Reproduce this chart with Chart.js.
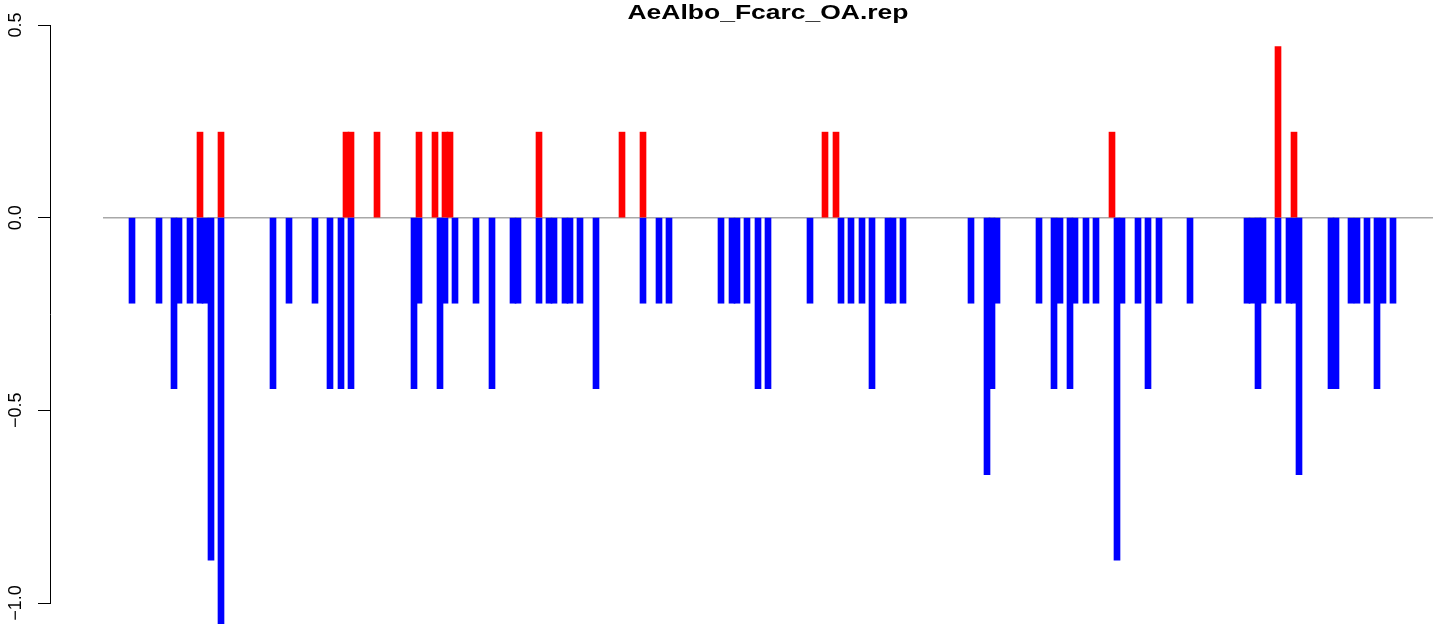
<!DOCTYPE html>
<html lang="en">
<head>
    <meta charset="UTF-8">
    <title>AeAlbo_Fcarc_OA.rep</title>
    <script src="https://cdn.jsdelivr.net/npm/chart.js"></script>
    <style>
        body { margin: 0; background: #ffffff; }
    </style>
</head>
<body>
    <canvas id="grafico" width="1444" height="624"></canvas>

    <script>
        // Positions along the (unlabelled) x axis and the values of each bar
        const titulo = 'AeAlbo_Fcarc_OA.rep';

        const posNeg = [82, 109, 124, 129, 140, 150, 155, 161, 171, 223, 239, 265, 280, 291, 301, 364, 369, 390, 395, 405,
            426, 442, 463, 468, 489, 499, 504, 515, 520, 530, 546, 593, 609, 619, 671, 682, 687, 697, 708, 718,
            760, 791, 801, 812, 822, 838, 843, 853, 921, 937, 942, 947, 989, 1004, 1010, 1020, 1025, 1036, 1046, 1067,
            1072, 1088, 1098, 1109, 1140, 1197, 1202, 1208, 1213, 1228, 1239, 1244, 1249, 1281, 1286, 1301, 1307, 1317, 1327, 1333,
            1343];
        const valNeg = [-0.222, -0.222, -0.444, -0.222, -0.222, -0.222, -0.222, -0.889, -1.111, -0.444, -0.222, -0.222, -0.444, -0.444, -0.444, -0.444, -0.222, -0.444, -0.222, -0.222,
            -0.222, -0.444, -0.222, -0.222, -0.222, -0.222, -0.222, -0.222, -0.222, -0.222, -0.444, -0.222, -0.222, -0.222, -0.222, -0.222, -0.222, -0.222, -0.444, -0.444,
            -0.222, -0.222, -0.222, -0.222, -0.444, -0.222, -0.222, -0.222, -0.222, -0.667, -0.444, -0.222, -0.222, -0.444, -0.222, -0.444, -0.222, -0.222, -0.222, -0.889,
            -0.222, -0.222, -0.444, -0.222, -0.222, -0.222, -0.222, -0.444, -0.222, -0.222, -0.222, -0.222, -0.667, -0.444, -0.444, -0.222, -0.222, -0.222, -0.444, -0.222,
            -0.222];

        const posPos = [150, 171, 296, 301, 327, 369, 385, 395, 400, 489, 572, 593, 775, 786, 1062, 1228, 1244];
        const valPos = [0.222, 0.222, 0.222, 0.222, 0.222, 0.222, 0.222, 0.222, 0.222, 0.222, 0.222, 0.222, 0.222, 0.222, 0.222, 0.444, 0.222];

        // reference line at 0
        const lineaX = [53, 1383];
        const yTicks = [0.5, 0, -0.5, -1.0];
        const yTickLabels = ['0.5', '0.0', '\u22120.5', '\u22121.0'];

        const toPoints = (xs, ys) => xs.map((x, i) => ({ x: x, y: ys[i] }));

        // Rotated y labels and the title, R style
        const rotuloPlugin = {
            id: 'rotulos',
            afterDraw(chart) {
                const ctx = chart.ctx;
                const y = chart.scales.y;
                ctx.save();
                ctx.fillStyle = '#000000';
                ctx.font = '18px "Liberation Sans", Arial, sans-serif';
                ctx.textAlign = 'center';
                ctx.textBaseline = 'alphabetic';
                yTicks.forEach((v, i) => {
                    ctx.save();
                    ctx.translate(21, y.getPixelForValue(v));
                    ctx.rotate(-Math.PI / 2);
                    ctx.fillText(yTickLabels[i], 0, 0);
                    ctx.restore();
                });
                ctx.font = 'bold 21px "Liberation Sans", Arial, sans-serif';
                const ancho = ctx.measureText(titulo).width;
                ctx.translate(768, 19);
                ctx.scale(281 / ancho, 1);
                ctx.fillText(titulo, 0, 0);
                ctx.restore();
            }
        };

        const ctx = document.getElementById('grafico').getContext('2d');
        new Chart(ctx, {
            type: 'bar',
            data: {
                datasets: [
                    {
                        type: 'line',
                        data: toPoints(lineaX, [0, 0]),
                        borderColor: '#a8a8a8',
                        borderWidth: 1.5,
                        pointRadius: 0,
                        order: 3
                    },
                    {
                        data: toPoints(posNeg, valNeg),
                        backgroundColor: '#0000ff',
                        borderWidth: 0,
                        barThickness: 6,
                        grouped: false,
                        clip: false,
                        order: 1
                    },
                    {
                        data: toPoints(posPos, valPos),
                        backgroundColor: '#ff0000',
                        borderWidth: 0,
                        barThickness: 6,
                        grouped: false,
                        clip: false,
                        order: 1
                    }
                ]
            },
            options: {
                responsive: false,
                animation: false,
                layout: { padding: { left: 0, right: 8, top: 25, bottom: 21 } },
                plugins: {
                    legend: { display: false },
                    title: { display: false },
                    tooltip: { enabled: false }
                },
                scales: {
                    x: {
                        type: 'linear',
                        display: false,
                        offset: false,
                        min: 0,
                        max: 1386
                    },
                    y: {
                        min: -1.0,
                        max: 0.5,
                        afterFit: (scale) => { scale.width = 50; },
                        afterBuildTicks: (scale) => { scale.ticks = yTicks.map(v => ({ value: v })); },
                        ticks: { display: false },
                        grid: {
                            drawOnChartArea: false,
                            drawTicks: true,
                            tickLength: 12,
                            tickColor: '#000000',
                            tickWidth: 1
                        },
                        border: { display: true, color: '#000000', width: 1 }
                    }
                }
            },
            plugins: [rotuloPlugin]
        });
    </script>
</body>
</html>
